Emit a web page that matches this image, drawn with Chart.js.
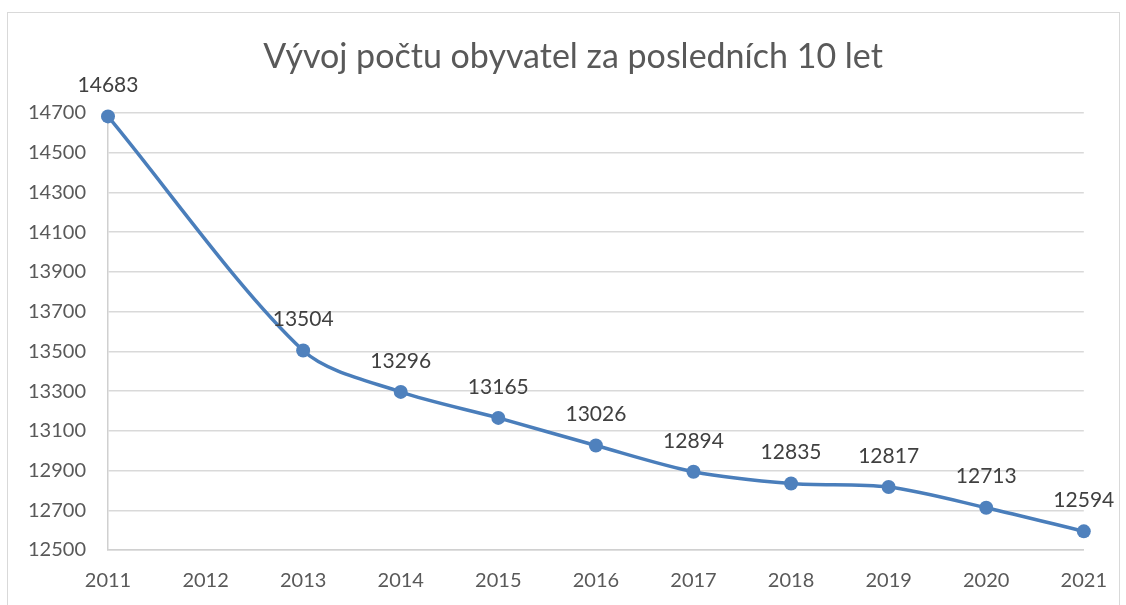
<!DOCTYPE html>
<html><head><meta charset="utf-8">
<script src="https://cdn.jsdelivr.net/npm/chart.js@4"></script>
<style>html,body{margin:0;padding:0;background:#fff}#w{width:1126px;height:605px;position:relative}</style>
</head><body><div id="w"><canvas id="c"></canvas></div>
<script>
const chartTitle = "Vývoj počtu obyvatel za posledních 10 let";
const years = ["2011","2012","2013","2014","2015","2016","2017","2018","2019","2020","2021"];
const population = [14683, null, 13504, 13296, 13165, 13026, 12894, 12835, 12817, 12713, 12594];
const yMin = 12500, yMax = 14700, yStep = 200;

const FONT = "Lato, 'Open Sans', sans-serif";

const frame = {
  id: 'frame',
  beforeDraw(ch) {
    const c = ch.ctx; c.save();
    c.fillStyle = '#fff'; c.fillRect(0, 0, ch.width, ch.height);
    c.strokeStyle = '#d9d9d9'; c.lineWidth = 1;
    c.strokeRect(7.5, 12.5, 1112, 620);
    c.fillStyle = '#595959';
    c.font = "34px " + FONT;
    c.textAlign = 'center'; c.textBaseline = 'middle';
    c.fillText(chartTitle, 573, 57);
    c.restore();
  }
};
const labels = {
  id: 'labels',
  afterDatasetsDraw(ch) {
    const c = ch.ctx; c.save();
    c.fillStyle = '#404040'; c.font = "21px " + FONT;
    c.textAlign = 'center'; c.textBaseline = 'middle';
    const meta = ch.getDatasetMeta(0);
    meta.data.forEach((p, i) => {
      const v = population[i];
      if (v === null) return;
      c.fillText(String(v), p.x, p.y - 31);
    });
    c.restore();
  }
};

new Chart(document.getElementById('c'), {
  type: 'line',
  data: { labels: years, datasets: [{
    data: population, spanGaps: true, clip: false,
    borderColor: '#4a7ebb', borderWidth: 3.5,
    backgroundColor: '#4f81bd', pointBackgroundColor: '#4f81bd', pointBorderColor: '#4f81bd',
    pointRadius: 7, pointBorderWidth: 0, tension: 0.3, cubicInterpolationMode: 'default'
  }]},
  options: {
    responsive: true, maintainAspectRatio: false, animation: false,
    layout: { padding: { left: 0, right: 42, top: 113, bottom: 0 } },
    plugins: { legend: { display: false }, tooltip: { enabled: false }, title: { display: false } },
    scales: {
      x: {
        offset: false,
        grid: { display: false, drawTicks: false },
        border: { display: true, color: '#d0d0d0', width: 1.5 },
        ticks: { color: '#595959', font: { family: FONT, size: 20 }, padding: 19, maxRotation: 0, autoSkip: false },
        afterFit(s) { s.height = 55; }
      },
      y: {
        min: yMin, max: yMax,
        grid: { color: '#d9d9d9', lineWidth: 1.5, drawTicks: false },
        border: { display: true, color: '#d0d0d0', width: 1.5 },
        ticks: { stepSize: yStep, color: '#595959', font: { family: FONT, size: 20 }, padding: 22,
                 callback: v => String(v) },
        afterFit(s) { s.width = 108; }
      }
    }
  },
  plugins: [frame, labels]
});
</script></body></html>
